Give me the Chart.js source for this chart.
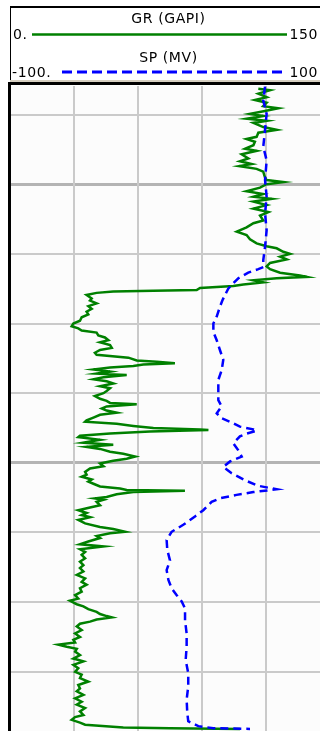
<!DOCTYPE html>
<html>
<head>
<meta charset="utf-8">
<title>GR / SP log</title>
<script src="https://cdn.jsdelivr.net/npm/chart.js@4.4.1/dist/chart.umd.min.js"></script>
<style>
    html, body { margin: 0; padding: 0; background: #fff; }
    #wrap { position: relative; width: 320px; height: 731px; overflow: hidden; }
    #log { position: absolute; left: 0; top: 0; }
    .lbl {
        position: absolute;
        font-family: "DejaVu Sans", sans-serif;
        font-size: 14px;
        line-height: 16px;
        letter-spacing: 0.6px;
        color: #000;
        white-space: nowrap;
    }
</style>
</head>
<body>
<div id="wrap">
    <canvas id="log" width="330" height="731"></canvas>
    <div class="lbl" style="left:0;width:337px;text-align:center;top:10px">GR (GAPI)</div>
    <div class="lbl" style="left:13px;top:26px">0.</div>
    <div class="lbl" style="right:2px;top:26px">150</div>
    <div class="lbl" style="left:0;width:337px;text-align:center;top:49px">SP (MV)</div>
    <div class="lbl" style="left:12px;top:64px">-100.</div>
    <div class="lbl" style="right:2px;top:64px">100</div>
</div>
<script>
// track scales (the track is a bit wider than the window, so the right edge is cut)
const grRange = [0, 150];
const spRange = [-100, 100];
const depthTop = 1025.9;
const depthBottom = 1118.5;
const depthTicks = [1030, 1040, 1050, 1060, 1070, 1080, 1090, 1100, 1110];
const grGridTicks = [30, 60, 90, 120];

// GR curve (GAPI) by depth
const grDepth = [
    1026.3, 1026.5, 1027.0, 1027.5, 1027.9, 1028.3, 1028.8, 1029.1, 1029.5, 1029.9,
    1030.2, 1030.6, 1030.9, 1031.2, 1031.8, 1032.2, 1032.6, 1033.2, 1033.5, 1033.9,
    1034.4, 1034.9, 1035.2, 1035.7, 1036.3, 1036.7, 1037.1, 1037.4, 1037.8, 1038.2,
    1039.0, 1039.4, 1039.7, 1040.0, 1040.5, 1041.0, 1041.4, 1041.8, 1042.1, 1042.5,
    1043.0, 1043.5, 1044.0, 1044.5, 1045.2, 1045.6, 1046.2, 1046.8, 1047.3, 1047.9,
    1048.5, 1048.9, 1049.2, 1049.7, 1050.0, 1050.4, 1050.8, 1051.3, 1051.8, 1052.2,
    1052.7, 1053.1, 1053.3, 1053.5, 1053.8, 1054.1, 1054.4, 1054.6, 1054.9, 1055.2,
    1055.3, 1055.4, 1055.6, 1055.9,
    1056.4, 1056.7, 1057.1, 1057.5, 1057.9, 1058.3, 1058.7, 1059.1, 1059.6, 1060.0,
    1060.4, 1060.7, 1061.0, 1061.3, 1061.7, 1062.0, 1062.4, 1062.7, 1063.1, 1063.5,
    1063.8, 1064.2, 1064.5, 1064.9, 1065.3, 1065.5, 1065.7, 1065.9, 1066.1, 1066.3,
    1066.6, 1066.9, 1067.2, 1067.4, 1067.7, 1068.0, 1068.3, 1068.6, 1069.0, 1069.3,
    1069.7, 1070.0, 1070.4, 1070.8, 1071.1, 1071.4, 1071.6, 1071.9, 1072.2, 1072.5,
    1072.8, 1073.1, 1073.5, 1073.9, 1074.1, 1074.4, 1074.7, 1075.0, 1075.2, 1075.3,
    1075.5, 1075.8, 1076.1, 1076.3, 1076.7, 1077.1, 1077.4, 1077.7, 1078.0, 1078.4,
    1078.7, 1079.1, 1079.4, 1079.7, 1080.1, 1080.5, 1080.8, 1081.3, 1081.7, 1082.0,
    1082.4, 1082.7, 1083.0, 1083.4, 1083.7, 1083.9, 1084.0, 1084.2, 1084.5, 1084.9,
    1085.1,
    1085.3, 1085.6, 1086.1, 1086.4, 1086.8, 1087.2, 1087.5, 1087.8, 1088.2, 1088.7,
    1089.2, 1089.5, 1089.9, 1090.1, 1090.5, 1090.8, 1091.3, 1091.7, 1092.0, 1092.4,
    1092.8, 1093.2, 1093.7, 1094.2, 1094.7, 1095.1, 1095.6, 1096.1, 1096.6, 1097.1,
    1097.5, 1098.0, 1098.5, 1099.0, 1099.5, 1099.8, 1100.3, 1100.6, 1101.0, 1101.4,
    1101.7, 1102.0, 1102.2, 1102.5, 1102.8, 1103.1, 1103.5, 1104.0, 1104.5, 1105.0,
    1105.4, 1105.8, 1106.1, 1106.4, 1106.7, 1107.1, 1107.6, 1108.1, 1108.5, 1109.0,
    1109.5, 1110.0, 1110.4, 1110.9, 1111.4, 1111.9, 1112.4, 1112.8, 1113.3, 1113.8,
    1114.3, 1114.7, 1115.2, 1115.7, 1116.2, 1116.5, 1116.9, 1117.3, 1117.6, 1118.0,
    1118.1, 1118.2
];
const grValues = [
    116.4, 121.9, 116.4, 120.3, 114.8, 120.3, 118.7, 125.8, 119.5, 112.5,
    118.7, 110.9, 120.3, 114.1, 118.7, 125.0, 116.4, 115.6, 110.9, 114.8,
    114.1, 110.2, 115.6, 108.6, 111.7, 107.8, 113.3, 107.5, 115.6, 118.7,
    119.5, 120.3, 128.1, 120.3, 117.2, 110.9, 118.7, 114.1, 122.7, 114.1,
    120.3, 114.1, 121.1, 117.2, 118.7, 114.1, 110.9, 106.3, 110.9, 112.5,
    115.6, 120.3, 125.0, 128.1, 131.3, 126.6, 129.7, 121.9, 120.3, 121.9,
    126.6, 135.9, 139.1, 125.0, 114.1, 118.7, 109.4, 104.7, 89.1, 87.5,
    67.2, 48.4, 40.6, 35.9,
    38.3, 37.5, 40.6, 36.7, 38.3, 35.9, 36.7, 33.6, 32.8, 29.7,
    28.9, 32.0, 33.6, 40.6, 41.4, 44.5, 46.1, 42.2, 46.9, 47.7,
    42.2, 39.8, 40.6, 55.5, 59.4, 68.8, 77.3, 62.5, 57.8, 46.9,
    39.1, 46.9, 40.6, 54.7, 43.8, 39.1, 45.3, 48.4, 42.2, 46.9,
    45.3, 43.8, 39.8, 42.2, 45.3, 46.9, 59.4, 45.3, 43.0, 45.3,
    50.0, 42.2, 39.1, 35.9, 35.2, 50.0, 57.8, 67.2, 89.1, 93.0,
    65.6, 46.9, 32.8, 32.0, 42.2, 34.4, 48.4, 35.9, 42.2, 46.9,
    53.1, 58.6, 54.7, 48.4, 42.2, 43.8, 37.5, 35.2, 35.9, 33.6,
    38.3, 36.7, 39.1, 42.2, 51.6, 54.7, 82.0, 57.8, 50.0, 45.3,
    39.8,
    43.8, 40.6, 42.2, 37.5, 32.0, 35.9, 33.6, 37.5, 32.0, 35.2,
    42.2, 48.4, 53.9, 46.9, 40.6, 42.2, 36.7, 32.8, 43.8, 32.8,
    35.2, 33.6, 35.2, 32.8, 34.4, 32.8, 34.4, 31.3, 35.2, 33.6,
    35.9, 32.8, 33.6, 30.5, 32.0, 28.1, 31.3, 34.4, 36.7, 40.6,
    42.2, 45.3, 47.7, 40.6, 37.5, 32.8, 31.3, 33.6, 30.5, 32.8,
    29.7, 30.5, 22.7, 26.6, 31.3, 30.5, 32.8, 29.7, 34.4, 29.7,
    32.0, 30.5, 33.6, 32.8, 36.7, 32.0, 32.8, 31.3, 34.4, 30.5,
    33.6, 31.3, 35.2, 32.8, 34.4, 30.5, 28.9, 32.8, 35.2, 53.1,
    75.0, 107.8
];

// SP curve (mV) by depth
const spDepth = [
    1026.0, 1028.0, 1029.9, 1032.2, 1034.6, 1036.6, 1039.4, 1041.8, 1044.2, 1046.6,
    1049.0, 1050.9, 1051.9, 1052.2, 1052.7, 1053.5, 1054.2, 1055.0, 1055.9, 1056.6,
    1057.6, 1059.0, 1060.0, 1061.2, 1062.4, 1063.8, 1065.2, 1066.7, 1068.1, 1069.6,
    1071.0, 1071.9, 1072.9, 1073.6, 1074.2, 1074.8, 1075.2, 1075.4, 1075.8, 1076.2,
    1077.2, 1078.2, 1079.1, 1079.8, 1080.6, 1081.5, 1082.5, 1083.3, 1083.8, 1084.2,
    1084.6, 1085.1, 1085.6, 1086.8, 1087.7, 1088.9, 1089.9, 1091.1, 1092.5, 1094.0,
    1095.4, 1096.8, 1098.0, 1099.0, 1099.9, 1100.9, 1102.6, 1104.5, 1106.4, 1108.3,
    1110.2, 1112.1, 1114.0, 1115.9, 1117.1, 1117.8, 1118.1, 1118.2
];
const spValues = [
    59.4, 58.3, 60.4, 59.4, 58.3, 60.4, 59.4, 60.4, 59.4, 60.4,
    59.4, 58.3, 58.3, 55.2, 48.9, 42.7, 39.6, 36.4, 34.4, 32.9,
    31.2, 29.2, 27.1, 27.1, 29.2, 31.2, 33.3, 32.3, 30.2, 30.2,
    30.2, 32.3, 29.2, 32.3, 38.5, 43.7, 52.1, 54.2, 47.9, 43.7,
    39.6, 42.7, 44.8, 37.5, 33.3, 38.5, 46.8, 55.2, 66.6, 52.1,
    41.6, 31.2, 26.0, 20.8, 15.6, 8.3, 1.0, -2.1, -1.7, 0.0,
    -2.1, -1.0, 1.0, 4.2, 7.3, 9.4, 9.4, 10.4, 10.4, 9.8,
    11.4, 11.4, 10.4, 10.8, 11.4, 17.7, 27.1, 50.0
];

function toPoints(values, depths) {
    return values.map((v, i) => ({ x: v, y: depths[i] }));
}

// white page, off-white track, black frame and the header curve samples
const logFrame = {
    id: 'logFrame',
    beforeDraw(chart) {
        const ctx = chart.ctx;
        const a = chart.chartArea;
        ctx.save();
        ctx.fillStyle = '#ffffff';
        ctx.fillRect(0, 0, chart.width, chart.height);
        ctx.fillStyle = '#fcfcfc';
        ctx.fillRect(a.left, a.top, a.right - a.left, a.bottom - a.top);
        ctx.restore();
    },
    afterDraw(chart) {
        const ctx = chart.ctx;
        ctx.save();
        ctx.fillStyle = '#000';
        ctx.fillRect(10, 6, 320, 2);      // top border
        ctx.fillRect(10, 6, 1, 78);       // header left border
        ctx.fillStyle = '#d6cfc0';
        ctx.fillRect(10, 80, 320, 2);
        ctx.fillStyle = '#000';
        ctx.fillRect(10, 82, 320, 3);     // header / track divider
        ctx.fillRect(8, 82, 3, 649);      // track left border

        ctx.lineWidth = 2.5;
        ctx.strokeStyle = '#008000';
        ctx.beginPath();
        ctx.moveTo(32, 34.5);
        ctx.lineTo(287, 34.5);
        ctx.stroke();

        ctx.lineWidth = 3;
        ctx.strokeStyle = '#0000ff';
        ctx.setLineDash([10, 5]);
        ctx.beginPath();
        ctx.moveTo(62, 72);
        ctx.lineTo(287, 72);
        ctx.stroke();
        ctx.restore();
    }
};

function isMajor(ctx) {
    return ctx.tick && ctx.tick.value % 40 === 0;
}

new Chart(document.getElementById('log'), {
    type: 'scatter',
    data: {
        datasets: [{
            label: 'SP (MV)',
            data: toPoints(spValues, spDepth),
            xAxisID: 'xSP',
            showLine: true,
            borderColor: '#0000ff',
            borderWidth: 2.5,
            borderDash: [8, 5],
            pointRadius: 0,
            tension: 0
        }, {
            label: 'GR (GAPI)',
            data: toPoints(grValues, grDepth),
            xAxisID: 'xGR',
            showLine: true,
            borderColor: '#008000',
            borderWidth: 2.5,
            pointRadius: 0,
            tension: 0
        }]
    },
    options: {
        responsive: false,
        animation: false,
        devicePixelRatio: 1,
        layout: { padding: { top: 86, left: 10, right: 0, bottom: 0 } },
        plugins: {
            legend: { display: false },
            tooltip: { enabled: false }
        },
        scales: {
            y: {
                type: 'linear',
                reverse: true,
                min: depthTop,
                max: depthBottom,
                afterBuildTicks: scale => {
                    scale.ticks = depthTicks.map(v => ({ value: v }));
                },
                ticks: { display: false },
                grid: {
                    drawTicks: false,
                    color: c => isMajor(c) ? '#b4b4b4' : '#cacaca',
                    lineWidth: c => isMajor(c) ? 3 : 2
                },
                border: { display: false }
            },
            xGR: {
                type: 'linear',
                position: 'top',
                min: grRange[0],
                max: grRange[1],
                afterBuildTicks: scale => {
                    scale.ticks = grGridTicks.map(v => ({ value: v }));
                },
                ticks: { display: false },
                grid: { drawTicks: false, color: '#cacaca', lineWidth: 2 },
                border: { display: false }
            },
            xSP: {
                type: 'linear',
                position: 'top',
                min: spRange[0],
                max: spRange[1],
                display: false
            }
        }
    },
    plugins: [logFrame]
});
</script>
</body>
</html>
